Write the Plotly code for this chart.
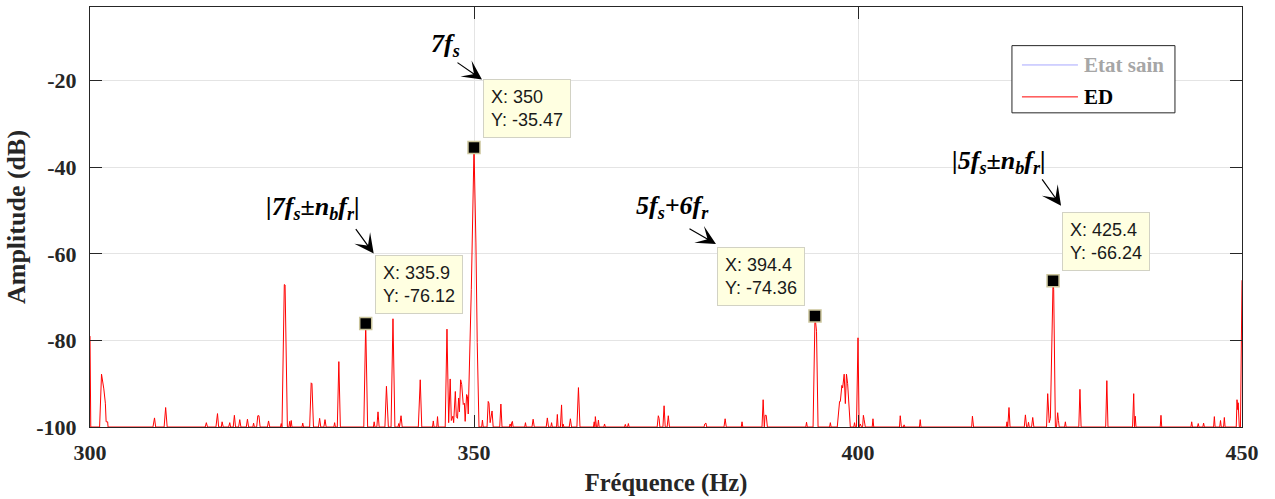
import plotly.graph_objects as go

# Spectre du courant statorique, défaut (ED) : points (fréquence, amplitude)
band_300_330_hz = [
    300.0, 300.1, 301.25, 301.5, 301.8, 301.9, 302.0, 302.1, 302.3, 302.35,
    308.2, 308.4, 308.55, 309.65, 309.85, 310.05,
    315.0, 315.15, 315.3, 316.4, 316.6, 316.75, 317.1, 317.2, 317.35,
    318.05, 318.2, 318.3, 318.65, 318.8, 318.95, 319.35, 319.5, 319.65,
    320.35, 320.5, 320.65, 321.2, 321.3, 321.4, 321.7, 321.85, 322.0, 322.15,
    323.1, 323.25, 323.4, 324.8, 324.9, 325.0,
    325.3, 325.4, 325.7,
    325.9, 326.0, 326.1, 326.2, 326.3, 327.6, 327.7, 327.8,
    328.6, 328.8, 328.9, 329.1, 329.75, 329.9, 330.05,
]
band_300_330_db = [
    -79.0, -100, -100, -87.8, -91.2, -93.2, -94.5, -98.8, -98.8, -100,
    -100, -97.9, -100, -100, -95.5, -100,
    -100, -99.0, -100, -100, -96.9, -100, -100, -98.8, -100,
    -100, -99.0, -100, -100, -97.3, -100, -100, -98.3, -100,
    -100, -98.2, -100, -100, -99.1, -100, -100, -97.4, -97.4, -100,
    -100, -98.6, -100, -100, -99.2, -100,
    -67.1, -67.2, -100,
    -100, -98.7, -100, -98.5, -100, -100, -99.1, -100,
    -100, -89.8, -90.0, -100, -100, -98.0, -100,
]

band_330_360_hz = [
    330.45, 330.6, 330.75, 331.75, 331.85, 331.95, 332.2, 332.4, 332.6,
    335.65, 335.9, 336.15, 336.9, 337.0, 337.1, 337.35, 337.5, 337.65,
    338.4, 338.6, 338.7, 338.85, 339.2, 339.45, 339.7,
    340.1, 340.2, 340.3, 340.5, 340.65, 342.75, 343.0, 343.2,
    344.6, 344.7, 344.8, 345.15, 345.25, 345.35,
    346.25, 346.48, 346.7, 346.9, 347.05, 347.15, 347.25, 347.35, 347.57, 347.7,
    347.85, 348.0, 348.1, 348.26, 348.4, 348.6, 348.75, 348.85, 349.04, 349.15,
    349.25, 349.65, 350.0, 350.25, 350.35, 350.42, 350.65,
    351.0, 351.1, 351.2, 351.7, 351.85, 351.95, 352.1, 352.35, 352.5,
    353.35, 353.5, 353.65, 354.6, 354.7, 354.85, 354.9, 355.0, 355.1,
    356.6, 356.7, 356.8, 357.55, 357.7, 357.85, 359.4, 359.55, 359.7,
]
band_330_360_db = [
    -100, -98.3, -100, -100, -99.0, -100, -100, -84.9, -100,
    -100, -76.12, -100, -100, -98.8, -100, -100, -96.5, -100,
    -100, -90.6, -95.0, -100, -100, -75.0, -100,
    -100, -99.2, -100, -97.4, -100, -100, -89.1, -100,
    -100, -98.6, -100, -100, -97.6, -100,
    -100, -77.4, -99.0, -88.9, -98.5, -98.0, -97.5, -99.0, -91.8, -97.6,
    -98.0, -93.3, -96.5, -89.1, -90.2, -94.8, -94.5, -98.7, -92.5, -93.0,
    -97.0, -68.3, -35.47, -57.5, -78.0, -80.5, -100,
    -100, -98.4, -100, -100, -94.1, -94.5, -99.0, -96.3, -100,
    -100, -94.7, -100, -100, -99.3, -100, -99.0, -98.7, -100,
    -100, -99.0, -100, -100, -98.2, -100, -100, -97.9, -100,
]

band_360_390_hz = [
    360.0, 360.1, 360.2, 360.75, 360.85, 360.95,
    361.25, 361.4, 361.5, 361.6, 361.7, 362.4, 362.55, 362.7,
    363.4, 363.6, 363.8, 365.55, 365.65, 365.75, 365.8, 365.95,
    366.1, 366.2, 366.3, 366.9, 367.0, 367.1,
    369.6, 369.7, 369.8, 370.0, 370.1, 370.2,
    373.85, 374.0, 374.1, 374.2, 374.6, 374.75, 374.9, 375.15, 375.3, 375.45,
    379.95, 380.05, 380.2, 380.3, 382.55, 382.7, 382.85, 384.8, 384.9, 385.0,
    387.5, 387.65, 387.8, 387.9, 388.05, 388.2,
]
band_360_390_db = [
    -100, -99.0, -100, -100, -97.1, -100,
    -100, -94.9, -100, -99.3, -100, -100, -98.1, -100,
    -100, -90.9, -100, -100, -98.8, -100, -97.6, -100,
    -100, -98.4, -100, -100, -99.3, -100,
    -100, -99.4, -100, -100, -99.2, -100,
    -100, -97.4, -98.0, -100, -100, -95.1, -100, -100, -97.4, -100,
    -100, -99.3, -99.1, -100, -100, -98.1, -100, -100, -98.8, -100,
    -100, -93.7, -100, -97.3, -97.3, -100,
]

band_390_420_hz = [
    393.2, 393.3, 393.4, 394.15, 394.4, 394.6, 394.8,
    396.3, 396.4, 396.5,
    397.3, 397.6, 397.7, 397.9, 398.0, 398.2, 398.35, 398.5, 398.65, 398.8, 398.9, 399.0,
    399.45, 399.55, 399.65, 399.8, 400.0, 400.15, 400.3, 400.45,
    400.6, 400.7, 400.8, 400.95, 401.85, 401.95, 402.05,
    405.4, 405.5, 405.65, 405.9, 406.0, 406.1, 408.0, 408.1, 408.2,
    414.8, 414.9, 415.05, 419.3, 419.4, 419.5, 419.66, 419.8,
]
band_390_420_db = [
    -100, -98.9, -100, -100, -74.36, -77.9, -100,
    -100, -99.0, -100,
    -100, -94.1, -94.1, -90.4, -91.0, -87.8, -94.6, -87.8, -90.0, -95.4, -97.0, -100,
    -100, -99.0, -100, -100, -79.4, -100, -99.3, -100,
    -100, -97.3, -98.3, -100, -100, -98.1, -100,
    -100, -97.4, -100, -100, -99.5, -100, -100, -98.3, -100,
    -100, -97.5, -100, -100, -98.8, -100, -95.5, -100,
]

band_420_450_hz = [
    421.65, 421.8, 421.95, 422.1, 422.2, 422.3, 422.6, 422.75, 422.9,
    424.55, 424.7, 424.9, 425.05, 425.4, 425.48, 425.7,
    425.85, 426.0, 426.1, 426.2, 426.9, 427.0, 427.1,
    428.75, 428.9, 429.05, 432.25, 432.4, 432.55,
    435.75, 435.9, 436.0, 436.1, 436.2, 439.35, 439.45, 439.55,
    443.35, 443.45, 443.55, 444.2, 444.3, 444.4, 444.9, 445.0, 445.1,
    446.3, 446.4, 446.5, 447.1, 447.2, 447.3, 447.6, 447.7, 447.8,
    449.25, 449.35, 449.45, 449.5, 449.65, 449.8, 450.0,
]
band_420_450_db = [
    -100, -97.2, -100, -100, -98.9, -100, -100, -97.8, -100,
    -100, -92.3, -99.0, -98.0, -66.24, -68.3, -100,
    -100, -96.7, -98.5, -100, -100, -98.8, -100,
    -100, -91.3, -100, -100, -89.3, -100,
    -100, -92.3, -100, -97.5, -100, -100, -97.3, -100,
    -100, -98.8, -100, -100, -99.2, -100, -100, -99.1, -100,
    -100, -97.6, -100, -100, -98.5, -100, -100, -97.8, -100,
    -100, -93.7, -96.0, -94.4, -100, -100, -66.1,
]

freq_hz = band_300_330_hz + band_330_360_hz + band_360_390_hz + band_390_420_hz + band_420_450_hz
ed_db = band_300_330_db + band_330_360_db + band_360_390_db + band_390_420_db + band_420_450_db

# Curseurs de données (X, Y) et côté d'affichage de l'étiquette
tip_x = [350, 335.9, 394.4, 425.4]
tip_y = [-35.47, -76.12, -74.36, -66.24]
tip_side = ["right", "right", "left", "right"]

# Repères des harmoniques
harm_labels = [
    "<b><i>7f<sub>s</sub></i></b>",
    "<b><i>|7f<sub>s</sub>±n<sub>b</sub>f<sub>r</sub>|</i></b>",
    "<b><i>5f<sub>s</sub>+6f<sub>r</sub></i></b>",
    "<b><i>|5f<sub>s</sub>±n<sub>b</sub>f<sub>r</sub>|</i></b>",
]
# décalages (pixels) du texte et de la flèche par rapport au curseur
label_shift = [(-29, 103), (-53, 116), (-142, 109), (-54, 119)]
arrow_tip_shift = [(8, 68), (8, 70), (-99, 72), (8, 75)]
arrow_tail = [(-26, -18), (-19, -26), (-28, -16), (-20, -28)]

legend_names = ["Etat sain", "ED"]
legend_line_colors = ["#a8a8ff", "#ff0000"]
legend_text_colors = ["#a6a6a6", "#000000"]

x_ticks = [300, 350, 400, 450]
y_ticks = [-100, -80, -60, -40, -20]

serif = "Liberation Serif"
axis_col = "#262626"

fig = go.Figure()
fig.add_trace(go.Scatter(
    x=freq_hz, y=ed_db, mode="lines", name="ED",
    line=dict(color="#ff0000", width=1), showlegend=False, hoverinfo="skip",
))
fig.add_trace(go.Scatter(
    x=tip_x, y=tip_y, mode="markers", showlegend=False, hoverinfo="skip",
    marker=dict(symbol="square", size=12, color="black",
                line=dict(color="#cbc59c", width=1.5)),
))

annotations = []
for i, (tx, ty) in enumerate(zip(tip_x, tip_y)):
    right = tip_side[i] == "right"
    annotations.append(dict(
        x=tx, y=ty, xref="x", yref="y",
        text=f"X: {tx:g}<br>Y: {ty:.2f}",
        showarrow=False, align="left",
        xanchor="left" if right else "right", yanchor="bottom",
        xshift=9 if right else -10, yshift=10,
        bgcolor="#ffffe1", bordercolor="#d2d2c4", borderwidth=1, borderpad=7,
        font=dict(family="Liberation Sans", size=18, color="#1a1a1a"),
    ))
    lx, ly = label_shift[i]
    annotations.append(dict(
        x=tx, y=ty, xref="x", yref="y", text=harm_labels[i], showarrow=False,
        xanchor="center", yanchor="middle", xshift=lx, yshift=ly,
        font=dict(family=serif, size=26, color="black"),
    ))
    sx, sy = arrow_tip_shift[i]
    ax, ay = arrow_tail[i]
    annotations.append(dict(
        x=tx, y=ty, xref="x", yref="y", text="", showarrow=True,
        xshift=sx, yshift=sy, ax=ax, ay=ay, axref="pixel", ayref="pixel",
        arrowhead=3, arrowsize=2.7, arrowwidth=1.2, arrowcolor="black", standoff=0,
    ))

# Légende (cadre, traits et libellés)
shapes = [dict(type="rect", xref="paper", yref="paper", x0=0.8003, x1=0.9418,
               y0=0.748, y1=0.908, line=dict(color=axis_col, width=1),
               fillcolor="white", layer="above")]
legend_rows_y = [0.862, 0.786]
for name, lc, tc, ry in zip(legend_names, legend_line_colors, legend_text_colors, legend_rows_y):
    shapes.append(dict(type="line", xref="paper", yref="paper", x0=0.8090, x1=0.8576,
                       y0=ry, y1=ry, line=dict(color=lc, width=1), layer="above"))
    annotations.append(dict(x=0.8610, y=ry, xref="paper", yref="paper", text=f"<b>{name}</b>",
                            showarrow=False, xanchor="left", yanchor="middle",
                            font=dict(family=serif, size=21, color=tc)))

tick_font = dict(family=serif, size=22, color=axis_col, weight="bold")

fig.update_layout(
    width=1275, height=499,
    margin=dict(l=90, r=33, t=7, b=72),
    paper_bgcolor="white", plot_bgcolor="white",
    showlegend=False,
    annotations=annotations, shapes=shapes,
    xaxis=dict(
        range=[300, 450], tickvals=x_ticks, ticktext=[str(v) for v in x_ticks],
        ticks="inside", ticklen=12, tickcolor=axis_col,
        showline=True, linecolor=axis_col, linewidth=1, mirror="ticks",
        showgrid=True, gridcolor="#e4e4e4", gridwidth=1, zeroline=False,
        tickfont=tick_font, ticklabelstandoff=6,
        title=dict(text="Fréquence (Hz)", standoff=9,
                   font=dict(family=serif, size=24.5, color=axis_col, weight="bold")),
    ),
    yaxis=dict(
        range=[-100, -3], tickvals=y_ticks, ticktext=[str(v) for v in y_ticks],
        ticks="inside", ticklen=12, tickcolor=axis_col,
        showline=True, linecolor=axis_col, linewidth=1, mirror="ticks",
        showgrid=True, gridcolor="#e4e4e4", gridwidth=1, zeroline=False,
        tickfont=tick_font, ticklabelstandoff=8,
        title=dict(text="Amplitude (dB)", standoff=3,
                   font=dict(family=serif, size=26, color=axis_col, weight="bold")),
    ),
)

fig.write_html("out.html")
